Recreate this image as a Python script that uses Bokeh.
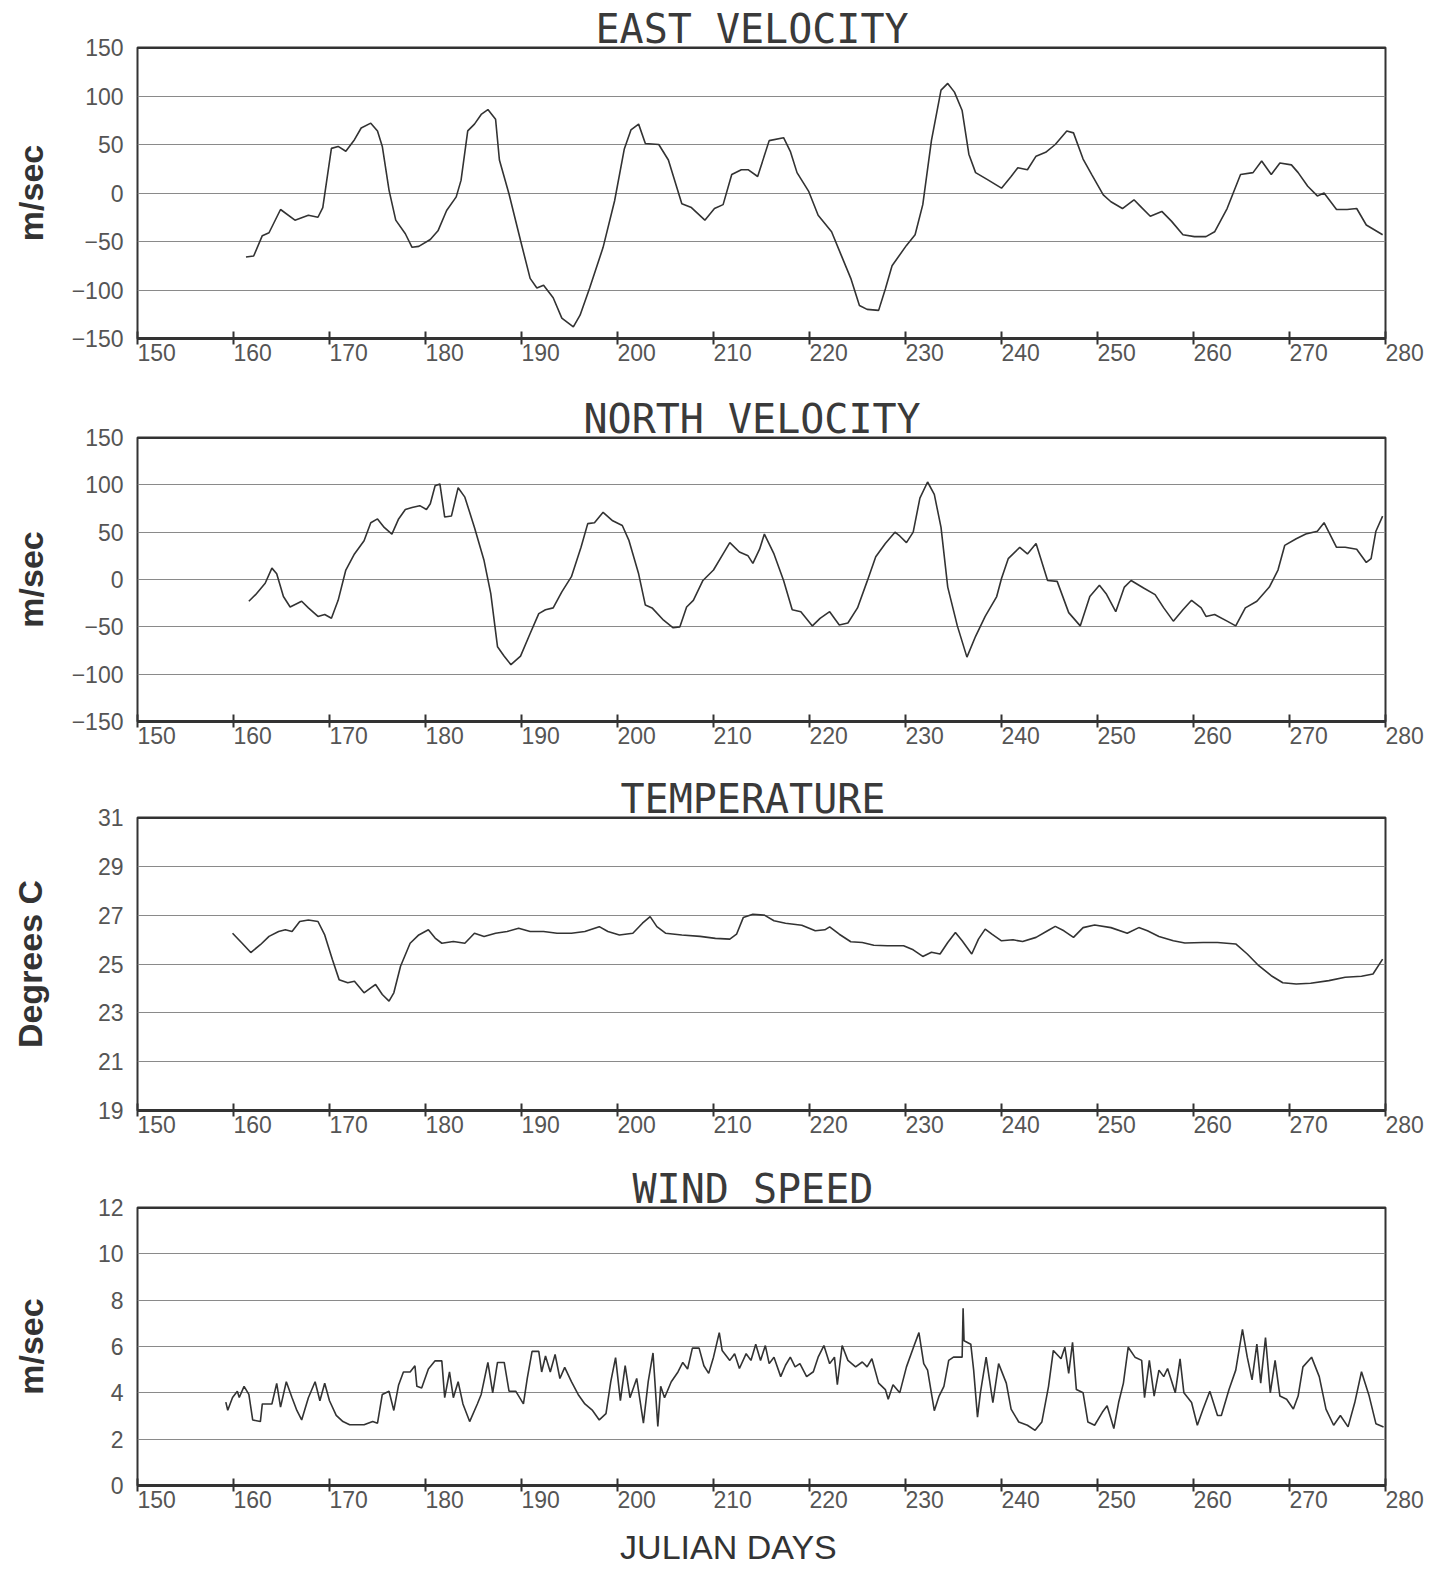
from bokeh.plotting import figure
from bokeh.models import FixedTicker, Span
from bokeh.layouts import column
from bokeh.embed import file_html
from bokeh.resources import INLINE

# ---------------- data ----------------
x_ticks = [150, 160, 170, 180, 190, 200, 210, 220, 230, 240, 250, 260, 270, 280]
x_tick_labels = [str(t) for t in x_ticks]

vel_ticks = [-150, -100, -50, 0, 50, 100, 150]
temp_ticks = [19, 21, 23, 25, 27, 29, 31]
wind_ticks = [0, 2, 4, 6, 8, 10, 12]

titles = ["EAST VELOCITY", "NORTH VELOCITY", "TEMPERATURE", "WIND SPEED"]
y_labels = ["m/sec", "m/sec", "Degrees C", "m/sec"]
x_label = "JULIAN DAYS"

east_days = [161.3, 162.1, 163.0, 163.7, 164.9, 166.4, 167.8, 168.8, 169.3, 170.2,
             170.9, 171.7, 172.6, 173.3, 174.3, 175.0, 175.5, 176.2, 176.9, 177.9,
             178.6, 179.3, 180.5, 181.3, 182.2, 183.2, 183.7, 184.4, 185.1, 185.8,
             186.5, 187.3, 187.7, 188.7, 189.9, 190.9, 191.6, 192.3, 193.3, 194.2,
             195.4, 196.1, 197.1, 198.5, 199.7, 200.7, 201.4, 202.2, 202.9, 204.3,
             205.3, 206.7, 207.7, 209.1, 210.1, 211.0, 211.9, 212.9, 213.6, 214.6,
             215.8, 217.3, 218.0, 218.7, 219.9, 220.9, 222.3, 223.3, 224.3, 225.2,
             226.0, 227.2, 227.9, 228.6, 230.1, 231.0, 231.8, 232.7, 233.7, 234.4,
             235.1, 235.9, 236.6, 237.3, 238.5, 240.0, 241.0, 241.7, 242.7, 243.6,
             244.6, 245.6, 246.8, 247.5, 248.5, 249.4, 250.6, 251.4, 252.6, 253.8,
             254.5, 255.5, 256.7, 257.7, 258.9, 260.1, 261.3, 262.2, 263.5, 264.9,
             266.2, 267.1, 268.1, 269.0, 270.2, 270.9, 271.9, 272.9, 273.6, 274.9,
             276.0, 277.0, 278.0, 279.7]
east_vals = [-66, -65, -44, -41, -17, -28, -23, -25, -15, 46,
             48, 43, 55, 67, 72, 64, 48, 3, -28, -42,
             -56, -55, -48, -39, -18, -4, 13, 64, 71, 81,
             86, 76, 34, -1, -49, -88, -98, -95, -108, -129,
             -138, -126, -98, -56, -8, 45, 65, 71, 51, 50,
             34, -11, -15, -28, -16, -12, 19, 24, 24, 17,
             54, 57, 43, 21, 2, -23, -40, -64, -88, -116,
             -120, -121, -99, -75, -54, -43, -12, 54, 106, 113,
             104, 85, 40, 21, 14, 5, 17, 26, 24, 38,
             42, 50, 64, 62, 35, 19, -2, -9, -16, -7,
             -14, -24, -19, -29, -43, -45, -45, -40, -16, 19,
             21, 33, 19, 31, 29, 21, 7, -3, 0, -17,
             -17, -16, -33, -43]

north_days = [161.6, 162.3, 163.3, 164.0, 164.5, 165.2, 165.9, 167.1, 167.8, 168.8,
              169.5, 170.2, 170.9, 171.7, 172.6, 173.6, 174.3, 175.0, 175.7, 176.5,
              177.2, 177.9, 178.6, 179.4, 180.1, 180.5, 181.0, 181.5, 182.0, 182.7,
              183.4, 184.1, 185.1, 186.1, 186.8, 187.5, 188.2, 188.9, 189.9, 190.9,
              191.8, 192.5, 193.3, 194.2, 195.2, 196.2, 196.9, 197.6, 198.5, 199.5,
              200.5, 201.2, 202.2, 202.9, 203.6, 204.8, 205.8, 206.5, 207.2, 207.9,
              208.9, 210.0, 211.0, 211.7, 212.7, 213.6, 214.1, 214.8, 215.3, 216.3,
              217.3, 218.2, 219.1, 220.3, 221.1, 222.1, 223.1, 224.0, 225.0, 226.0,
              226.9, 227.9, 228.9, 229.4, 230.1, 230.8, 231.5, 232.3, 233.0, 233.7,
              234.4, 235.4, 236.4, 237.3, 238.3, 239.5, 240.0, 240.7, 241.9, 242.7,
              243.6, 244.8, 245.8, 247.0, 248.2, 249.2, 250.2, 250.9, 251.9, 252.8,
              253.5, 254.8, 256.0, 256.9, 257.9, 258.9, 259.8, 260.8, 261.3, 262.2,
              263.5, 264.4, 265.4, 266.6, 267.9, 268.8, 269.5, 270.7, 271.7, 272.9,
              273.6, 274.9, 275.8, 277.0, 278.0, 278.5, 279.0, 279.7]
north_vals = [-23, -16, -4, 12, 6, -18, -29, -23, -30, -39,
              -37, -41, -22, 10, 27, 41, 60, 64, 55, 48,
              64, 74, 76, 78, 74, 80, 99, 101, 66, 67,
              97, 87, 55, 20, -15, -71, -81, -90, -81, -57,
              -36, -32, -30, -13, 3, 34, 59, 60, 71, 62,
              57, 41, 6, -27, -30, -43, -51, -50, -29, -22,
              -1, 10, 27, 39, 29, 25, 17, 32, 48, 27,
              -1, -32, -34, -49, -41, -34, -48, -46, -30, -2,
              24, 38, 50, 46, 39, 50, 86, 103, 90, 55,
              -8, -49, -82, -60, -39, -18, 1, 22, 34, 27,
              38, -1, -2, -35, -49, -18, -6, -15, -34, -8,
              -1, -9, -16, -30, -44, -32, -22, -30, -39, -37,
              -44, -49, -30, -23, -8, 10, 36, 43, 48, 51,
              60, 34, 34, 32, 18, 22, 51, 67]

temp_days = [159.9, 160.9, 161.8, 162.8, 163.7, 164.7, 165.4, 166.1, 166.9, 167.8,
             168.8, 169.5, 170.3, 171.0, 171.9, 172.6, 173.6, 174.3, 174.8, 175.5,
             176.2, 176.7, 177.4, 178.4, 179.3, 180.3, 181.0, 181.7, 182.9, 184.1,
             185.1, 186.1, 187.3, 188.5, 189.7, 190.9, 192.3, 193.7, 195.2, 196.6,
             198.1, 199.0, 200.2, 201.6, 202.6, 203.4, 204.1, 205.0, 206.7, 208.6,
             210.2, 211.7, 212.4, 213.1, 214.1, 215.3, 216.3, 217.5, 219.2, 220.6,
             221.6, 222.1, 223.1, 224.3, 225.5, 226.7, 228.1, 229.8, 230.8, 231.8,
             232.7, 233.6, 234.4, 235.2, 235.9, 236.9, 237.6, 238.3, 239.0, 240.0,
             241.2, 242.2, 243.6, 244.8, 245.6, 246.5, 247.5, 248.5, 249.7, 251.4,
             253.1, 254.3, 255.2, 256.4, 257.9, 259.1, 261.0, 262.5, 264.4, 265.6,
             266.8, 268.1, 269.3, 270.7, 272.2, 274.1, 275.8, 277.5, 278.7, 279.7]
temp_vals = [26.26, 25.85, 25.47, 25.79, 26.13, 26.33, 26.40, 26.33, 26.74, 26.80,
             26.74, 26.19, 25.18, 24.36, 24.23, 24.29, 23.82, 24.02, 24.16, 23.75,
             23.48, 23.82, 24.91, 25.85, 26.19, 26.40, 26.06, 25.85, 25.92, 25.85,
             26.26, 26.13, 26.26, 26.33, 26.46, 26.33, 26.33, 26.26, 26.26, 26.33,
             26.53, 26.33, 26.19, 26.26, 26.67, 26.94, 26.53, 26.26, 26.19, 26.13,
             26.05, 26.02, 26.22, 26.90, 27.04, 27.00, 26.77, 26.67, 26.59, 26.36,
             26.40, 26.52, 26.22, 25.91, 25.88, 25.77, 25.75, 25.75, 25.58, 25.31,
             25.48, 25.41, 25.88, 26.29, 25.95, 25.41, 26.02, 26.43, 26.22, 25.95,
             25.99, 25.92, 26.09, 26.36, 26.54, 26.36, 26.09, 26.49, 26.60, 26.49,
             26.26, 26.49, 26.36, 26.13, 25.95, 25.86, 25.88, 25.88, 25.82, 25.41,
             24.93, 24.52, 24.23, 24.18, 24.21, 24.32, 24.46, 24.50, 24.59, 25.20]

wind_days = [159.2, 159.4, 159.9, 160.4, 160.6, 161.1, 161.6, 162.0, 162.8, 163.0,
             164.0, 164.5, 164.9, 165.5, 166.1, 166.6, 167.1, 167.8, 168.5, 169.0,
             169.5, 170.0, 170.7, 171.4, 172.1, 173.6, 174.5, 175.0, 175.5, 176.2,
             176.7, 177.2, 177.7, 178.4, 178.9, 179.1, 179.6, 180.3, 181.0, 181.7,
             182.0, 182.5, 182.9, 183.4, 183.9, 184.6, 185.4, 185.8, 186.5, 187.0,
             187.5, 188.2, 188.7, 189.4, 190.2, 190.6, 191.1, 191.8, 192.1, 192.5,
             193.0, 193.5, 194.0, 194.5, 195.2, 195.9, 196.6, 197.4, 198.1, 198.8,
             199.3, 199.8, 200.3, 200.8, 201.3, 202.0, 202.7, 203.2, 203.7, 204.2,
             204.5, 204.9, 205.6, 206.3, 206.8, 207.3, 207.8, 208.5, 209.0, 209.5,
             210.0, 210.6, 210.9, 211.7, 212.2, 212.7, 213.4, 213.9, 214.4, 214.9,
             215.4, 215.8, 216.3, 217.0, 217.5, 218.0, 218.5, 219.0, 219.7, 220.4,
             220.9, 221.5, 222.1, 222.6, 222.9, 223.4, 224.0, 224.8, 225.5, 226.0,
             226.5, 227.2, 227.9, 228.2, 228.7, 229.4, 230.1, 230.9, 231.4, 231.9,
             232.3, 233.0, 233.5, 234.0, 234.5, 235.0, 235.9, 236.0, 236.1, 236.8,
             237.1, 237.5, 237.8, 238.4, 239.1, 239.7, 240.5, 241.0, 241.8, 242.7,
             243.5, 244.2, 244.9, 245.4, 246.2, 246.6, 247.0, 247.4, 247.8, 248.5,
             249.0, 249.7, 250.5, 251.0, 251.7, 252.2, 252.7, 253.2, 253.9, 254.6,
             254.9, 255.4, 255.9, 256.4, 256.9, 257.3, 258.1, 258.6, 259.0, 259.8,
             260.4, 261.0, 261.7, 262.5, 262.9, 263.7, 264.4, 265.1, 265.6, 266.1,
             266.6, 267.0, 267.5, 268.0, 268.5, 269.0, 269.7, 270.4, 270.9, 271.4,
             272.3, 273.1, 273.8, 274.6, 275.3, 276.1, 276.8, 277.5, 278.3, 279.0,
             279.8]
wind_vals = [3.6, 3.25, 3.8, 4.07, 3.8, 4.28, 3.93, 2.83, 2.76, 3.52,
             3.52, 4.41, 3.38, 4.48, 3.79, 3.24, 2.83, 3.79, 4.48, 3.66,
             4.41, 3.66, 3.03, 2.76, 2.62, 2.62, 2.76, 2.69, 3.93, 4.07,
             3.24, 4.34, 4.9, 4.9, 5.17, 4.28, 4.21, 5.03, 5.38, 5.38,
             3.79, 4.9, 3.79, 4.48, 3.52, 2.76, 3.52, 3.93, 5.31, 4.0,
             5.31, 5.31, 4.07, 4.07, 3.52, 4.62, 5.79, 5.79, 4.9, 5.59,
             4.9, 5.66, 4.62, 5.1, 4.48, 3.93, 3.52, 3.24, 2.83, 3.1,
             4.48, 5.52, 3.66, 5.17, 3.79, 4.62, 2.69, 4.48, 5.72, 2.55,
             4.28, 3.79, 4.48, 4.9, 5.31, 5.03, 5.93, 5.93, 5.17, 4.84,
             5.54, 6.6, 5.83, 5.4, 5.69, 5.05, 5.69, 5.4, 6.1, 5.4,
             6.04, 5.26, 5.54, 4.7, 5.19, 5.54, 5.12, 5.26, 4.7, 4.91,
             5.54, 6.04, 5.26, 5.54, 4.35, 6.04, 5.4, 5.12, 5.33, 5.12,
             5.47, 4.42, 4.14, 3.72, 4.35, 4.0, 5.12, 6.04, 6.6, 5.26,
             4.98, 3.23, 3.86, 4.28, 5.4, 5.54, 5.54, 7.65, 6.25, 6.1,
             4.98, 2.95, 4.0, 5.54, 3.58, 5.26, 4.42, 3.3, 2.74, 2.6,
             2.38, 2.74, 4.28, 5.83, 5.47, 5.97, 4.84, 6.18, 4.14, 4.0,
             2.74, 2.6, 3.16, 3.44, 2.46, 3.58, 4.42, 5.97, 5.54, 5.4,
             3.79, 5.4, 3.86, 4.98, 4.7, 5.05, 4.0, 5.47, 4.0, 3.58,
             2.6, 3.3, 4.07, 3.02, 3.02, 4.14, 4.98, 6.74, 5.54, 4.56,
             6.1, 4.42, 6.39, 4.0, 5.4, 3.86, 3.72, 3.3, 3.86, 5.12,
             5.54, 4.7, 3.3, 2.6, 3.02, 2.53, 3.58, 4.91, 3.86, 2.67,
             2.53]

series_days = [east_days, north_days, temp_days, wind_days]
series_vals = [east_vals, north_vals, temp_vals, wind_vals]
series_ticks = [vel_ticks, vel_ticks, temp_ticks, wind_ticks]

# ---------------- layout / style ----------------
FIG_W = 1425
FRAME_LEFT = 137
FRAME_RIGHT = 1385
TITLE_CENTER = 752
TITLE_PX = 40
heights = [390, 380, 390, 408]
borders_bottom = [52, 49, 50, 76]
ylabel_standoff = [19, 19, 46, 45]
INK = "#333333"
TICK_INK = "#555555"
NB = "\u00a0" * 6   # pads centred tick labels so the digits start at the tick


def make_panel(i):
    yt = series_ticks[i]
    p = figure(width=FIG_W, height=heights[i],
               x_range=(x_ticks[0], x_ticks[-1]), y_range=(yt[0], yt[-1]),
               output_backend="svg", toolbar_location=None,
               title=titles[i],
               min_border_left=FRAME_LEFT, min_border_right=FIG_W - FRAME_RIGHT,
               min_border_top=47, min_border_bottom=borders_bottom[i],
               background_fill_color="white", border_fill_color="white")
    p.outline_line_color = INK
    p.outline_line_width = 2

    # title (monospace, left edge placed so the text is centred near x=752)
    t = p.title
    t.align = "left"
    t.offset = round(TITLE_CENTER - FRAME_LEFT - len(titles[i]) * 0.602 * TITLE_PX / 2)
    t.text_font = "DejaVu Sans Mono"
    t.text_font_size = f"{TITLE_PX}px"
    t.text_font_style = "normal"
    t.text_color = "#3a3a3a"
    t.standoff = -9

    # bottom axis
    ax = p.xaxis[0]
    ax.ticker = FixedTicker(ticks=x_ticks)
    ax.major_label_overrides = {tk: NB + lbl for tk, lbl in zip(x_ticks, x_tick_labels)}
    ax.major_label_text_font = "Liberation Sans"
    ax.major_label_text_font_size = "23px"
    ax.major_label_text_color = TICK_INK
    ax.major_label_standoff = -5
    ax.axis_line_width = 3
    ax.axis_line_color = INK
    ax.major_tick_in = 7
    ax.major_tick_out = 6
    ax.major_tick_line_width = 2
    ax.major_tick_line_color = INK
    ax.minor_tick_line_color = None
    if i == 3:
        ax.axis_label = x_label + "\u00a0" * 7
        ax.axis_label_text_font = "Liberation Sans"
        ax.axis_label_text_font_size = "34px"
        ax.axis_label_text_font_style = "normal"
        ax.axis_label_text_color = INK
        ax.axis_label_standoff = 12

    # left axis: labels only
    ay = p.yaxis[0]
    ay.ticker = FixedTicker(ticks=yt)
    ay.major_label_text_font = "Liberation Sans"
    ay.major_label_text_font_size = "23px"
    ay.major_label_text_color = TICK_INK
    ay.major_label_standoff = 8
    ay.axis_line_color = None
    ay.major_tick_line_color = None
    ay.minor_tick_line_color = None
    ay.axis_label = y_labels[i]
    ay.axis_label_text_font = "Liberation Sans"
    ay.axis_label_text_font_style = "bold"
    ay.axis_label_text_font_size = "34px"
    ay.axis_label_text_color = INK
    ay.axis_label_standoff = ylabel_standoff[i]

    p.xgrid.visible = False
    p.ygrid.ticker = FixedTicker(ticks=yt[1:-1])
    p.ygrid.grid_line_color = "#8a8a8a"
    p.ygrid.grid_line_width = 1.2

    p.add_layout(Span(location=yt[-1], dimension="width", line_color=INK, line_width=3))

    p.line(series_days[i], series_vals[i], line_color="#333333", line_width=1.6)
    return p


figs = [make_panel(i) for i in range(4)]
layout = column(*figs, spacing=0)

open("out.html", "w").write(file_html(layout, INLINE))
